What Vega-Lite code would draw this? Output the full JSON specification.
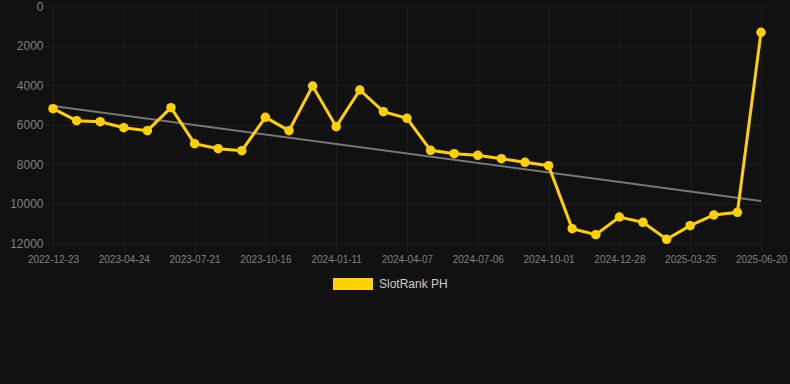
{
  "$schema": "https://vega.github.io/schema/vega-lite/v6.json",
  "width": 737,
  "height": 237,
  "autosize": {"type": "none"},
  "padding": {"left": 53, "top": 6, "right": 0, "bottom": 141},
  "background": "#111111",
  "config": {
    "view": {"stroke": null},
    "font": "Liberation Sans"
  },
  "datasets": {
    "ranks": [
      {"date": "2022-12-23", "rank": 5200, "series": "SlotRank PH"},
      {"date": "2023-02-02", "rank": 5807, "series": "SlotRank PH"},
      {"date": "2023-03-15", "rank": 5857, "series": "SlotRank PH"},
      {"date": "2023-04-24", "rank": 6160, "series": "SlotRank PH"},
      {"date": "2023-05-23", "rank": 6312, "series": "SlotRank PH"},
      {"date": "2023-06-21", "rank": 5148, "series": "SlotRank PH"},
      {"date": "2023-07-21", "rank": 6970, "series": "SlotRank PH"},
      {"date": "2023-08-19", "rank": 7223, "series": "SlotRank PH"},
      {"date": "2023-09-17", "rank": 7325, "series": "SlotRank PH"},
      {"date": "2023-10-16", "rank": 5637, "series": "SlotRank PH"},
      {"date": "2023-11-14", "rank": 6312, "series": "SlotRank PH"},
      {"date": "2023-12-13", "rank": 4050, "series": "SlotRank PH"},
      {"date": "2024-01-11", "rank": 6110, "series": "SlotRank PH"},
      {"date": "2024-02-09", "rank": 4253, "series": "SlotRank PH"},
      {"date": "2024-03-09", "rank": 5350, "series": "SlotRank PH"},
      {"date": "2024-04-07", "rank": 5688, "series": "SlotRank PH"},
      {"date": "2024-05-07", "rank": 7308, "series": "SlotRank PH"},
      {"date": "2024-06-06", "rank": 7476, "series": "SlotRank PH"},
      {"date": "2024-07-06", "rank": 7561, "series": "SlotRank PH"},
      {"date": "2024-08-04", "rank": 7730, "series": "SlotRank PH"},
      {"date": "2024-09-02", "rank": 7915, "series": "SlotRank PH"},
      {"date": "2024-10-01", "rank": 8084, "series": "SlotRank PH"},
      {"date": "2024-10-30", "rank": 11276, "series": "SlotRank PH"},
      {"date": "2024-11-28", "rank": 11580, "series": "SlotRank PH"},
      {"date": "2024-12-28", "rank": 10684, "series": "SlotRank PH"},
      {"date": "2025-01-26", "rank": 10954, "series": "SlotRank PH"},
      {"date": "2025-02-24", "rank": 11814, "series": "SlotRank PH"},
      {"date": "2025-03-25", "rank": 11122, "series": "SlotRank PH"},
      {"date": "2025-04-23", "rank": 10582, "series": "SlotRank PH"},
      {"date": "2025-05-22", "rank": 10447, "series": "SlotRank PH"},
      {"date": "2025-06-20", "rank": 1333, "series": "SlotRank PH"}
    ],
    "trend": [
      {"date": "2022-12-23", "rank": 5060},
      {"date": "2025-06-20", "rank": 9870}
    ]
  },
  "encoding": {
    "x": {
      "field": "date",
      "type": "ordinal",
      "scale": {"type": "point", "range": [0, 708], "padding": 0},
      "axis": {
        "title": null,
        "values": ["2022-12-23", "2023-04-24", "2023-07-21", "2023-10-16", "2024-01-11", "2024-04-07", "2024-07-06", "2024-10-01", "2024-12-28", "2025-03-25", "2025-06-20"],
        "labelAngle": 0,
        "labelColor": "#808080",
        "labelFontSize": 10,
        "labelPadding": 2,
        "tickSize": 9,
        "tickColor": "#1e1e1e",
        "grid": true,
        "gridColor": "#1e1e1e",
        "domain": false
      }
    },
    "y": {
      "field": "rank",
      "type": "quantitative",
      "scale": {"domain": [0, 12000], "reverse": true, "nice": false, "zero": false},
      "axis": {
        "title": null,
        "values": [0, 2000, 4000, 6000, 8000, 10000, 12000],
        "format": "d",
        "labelColor": "#808080",
        "labelFontSize": 12,
        "labelPadding": 2,
        "tickSize": 8,
        "tickColor": "#1e1e1e",
        "grid": true,
        "gridColor": "#1e1e1e",
        "domain": false
      }
    }
  },
  "layer": [
    {
      "data": {"name": "trend"},
      "mark": {"type": "line", "color": "#777777", "strokeWidth": 2},
      "encoding": {}
    },
    {
      "data": {"name": "ranks"},
      "mark": {"type": "line", "color": "#FFD000", "strokeWidth": 3},
      "encoding": {}
    },
    {
      "data": {"name": "ranks"},
      "mark": {"type": "point", "filled": true, "opacity": 1, "size": 90},
      "encoding": {
        "color": {
          "field": "series",
          "type": "nominal",
          "scale": {"domain": ["SlotRank PH"], "range": ["#FFD000"]},
          "legend": {
            "title": null,
            "orient": "none",
            "legendX": 280,
            "legendY": 258,
            "symbolType": "M-1,-0.3H1V0.3H-1Z",
            "symbolSize": 1600,
            "symbolStrokeWidth": 0,
            "symbolOpacity": 1,
            "labelColor": "#cccccc",
            "labelFontSize": 12,
            "labelOffset": 6
          }
        }
      }
    }
  ]
}
